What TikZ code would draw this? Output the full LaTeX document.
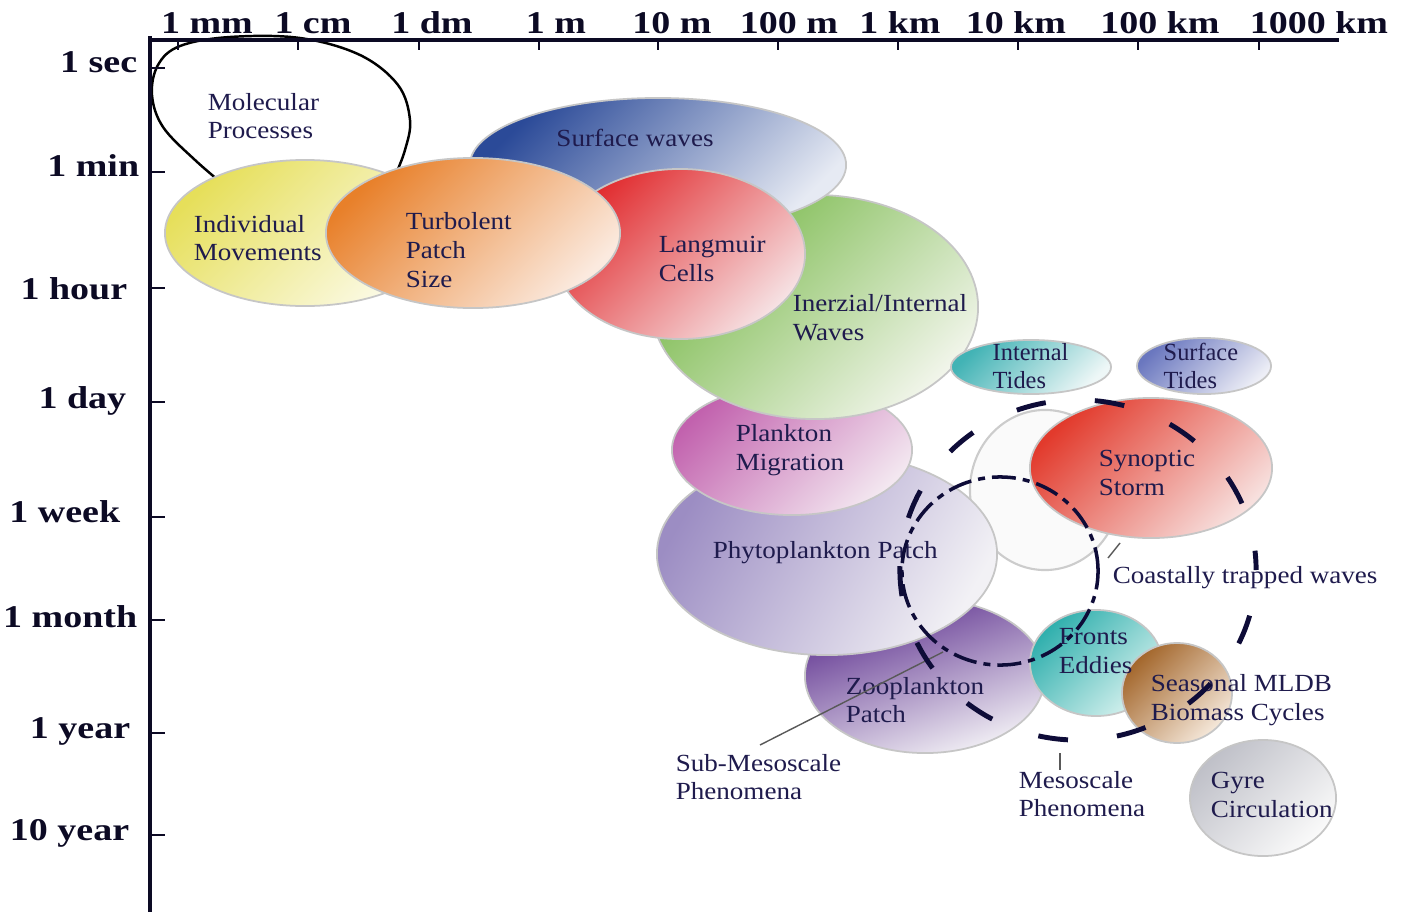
\documentclass[tikz,border=0pt]{standalone}
\usepackage{fontspec}
\setmainfont{Liberation Serif}
\usetikzlibrary{shapes.geometric}
\definecolor{txt}{HTML}{1F1B4D}
\definecolor{axc}{HTML}{0C0A24}
\definecolor{dashc}{HTML}{0E0C38}
\definecolor{cYel}{HTML}{E6DF5A}\definecolor{cYelP}{HTML}{FCFBEA}
\definecolor{cOra}{HTML}{E8802A}\definecolor{cOraP}{HTML}{FBEADF}
\definecolor{cBlu}{HTML}{2B4A98}\definecolor{cBluP}{HTML}{E6EAF3}
\definecolor{cRed}{HTML}{E12B2E}\definecolor{cRedP}{HTML}{F6E1E3}
\definecolor{cGrn}{HTML}{79B94B}\definecolor{cGrnP}{HTML}{F1F5EA}
\definecolor{cITd}{HTML}{42B3B5}\definecolor{cITdP}{HTML}{EEF7F7}
\definecolor{cSTd}{HTML}{6A77BF}\definecolor{cSTdP}{HTML}{EDEEF6}
\definecolor{cPnk}{HTML}{C262AE}\definecolor{cPnkP}{HTML}{F3E7F0}
\definecolor{cPhy}{HTML}{9C8DC3}\definecolor{cPhyP}{HTML}{F2F1F5}
\definecolor{cZoo}{HTML}{5C2F8E}\definecolor{cZooP}{HTML}{F2F0F5}
\definecolor{cSyn}{HTML}{E23A2C}\definecolor{cSynP}{HTML}{F7E0DE}
\definecolor{cFro}{HTML}{2FAFAD}\definecolor{cFroP}{HTML}{D8F2EF}
\definecolor{cSea}{HTML}{A3662B}\definecolor{cSeaP}{HTML}{F5E8DA}
\definecolor{cGyr}{HTML}{BFC0C8}\definecolor{cGyrP}{HTML}{FAFAFA}
\begin{document}
\begin{tikzpicture}[x=0.01cm,y=-0.01cm,
  blob/.style={ellipse, inner sep=0pt, draw=gray!45, line width=0.5pt},
  grad/.style 2 args={top color=#1, bottom color=#2, shading angle=45},
  lab/.style={font=\fontsize{7}{8.2}\selectfont, text=txt, inner sep=0pt, align=left, anchor=west, xscale=1.1},
  ax/.style={font=\bfseries\fontsize{9}{10}\selectfont, text=axc, inner sep=0pt, xscale=1.2},
  axis/.style={line width=1.1pt, draw=axc},
  tick/.style={line width=0.7pt, draw=axc},
  thin/.style={draw=gray!70!black, line width=0.4pt},
]
\useasboundingbox (0,0) rectangle (1403,912);
\fill[white] (0,0) rectangle (1403,912);

% molecular processes loop
\draw[line width=0.7pt, black] plot[smooth, tension=0.6] coordinates {(230,190) (195,160) (163,127) (152,95) (158,65) (180,46) (230,37) (300,38) (360,55) (398,85) (410,120) (405,150) (395,176)};

% blobs, back to front
\node[blob, minimum width=2.80cm, minimum height=1.46cm, grad={cYel}{cYelP}] (indiv) at (305,233) {};
\node[blob, minimum width=2.40cm, minimum height=1.54cm, top color=cZoo, bottom color=cZooP, shading angle=20] (zoo) at (925,676) {};
\node[blob, minimum width=1.32cm, minimum height=1.06cm, grad={cFro}{cFroP}] (fronts) at (1096,663) {};
\node[blob, minimum width=1.10cm, minimum height=1.00cm, grad={cSea}{cSeaP}] (seas) at (1177,693) {};
\node[ellipse, inner sep=0pt, draw=gray!40, line width=0.6pt, fill=gray!4, minimum width=1.50cm, minimum height=1.60cm] (coast) at (1045,490) {};
\node[blob, minimum width=3.40cm, minimum height=2.02cm, top color=cPhy, bottom color=cPhyP, shading angle=60] (phyto) at (827,554) {};
\node[blob, minimum width=2.40cm, minimum height=1.30cm, grad={cPnk}{cPnkP}] (pmig) at (792,450) {};
\node[blob, minimum width=3.26cm, minimum height=2.24cm, grad={cGrn}{cGrnP}] (inert) at (815,307) {};
\node[blob, minimum width=3.76cm, minimum height=1.34cm, grad={cBlu}{cBluP}] (surfw) at (658,165) {};
\node[blob, minimum width=2.50cm, minimum height=1.70cm, grad={cRed}{cRedP}] (lang) at (680,254) {};
\node[blob, minimum width=2.94cm, minimum height=1.50cm, grad={cOra}{cOraP}] (turb) at (473,233) {};
\node[blob, minimum width=2.42cm, minimum height=1.40cm, grad={cSyn}{cSynP}] (syn) at (1151,468) {};
\node[blob, minimum width=1.60cm, minimum height=0.54cm, grad={cITd}{cITdP}] (itid) at (1031,367) {};
\node[blob, minimum width=1.34cm, minimum height=0.56cm, grad={cSTd}{cSTdP}] (stid) at (1204,366) {};
\node[blob, minimum width=1.46cm, minimum height=1.16cm, grad={cGyr}{cGyrP}] (gyre) at (1263,798) {};

% axes
\coordinate (ytop) at (150,36);
\coordinate (ybot) at (150,912);
\coordinate (xl) at (150,40);
\coordinate (xr) at (1339,40);
\draw[axis] (ytop) -- (ybot);
\draw[axis] (xl) -- (xr);
\foreach \x/\lx/\t [count=\i] in {178/207/1 mm,298/313/1 cm,419/432/1 dm,539/556/1 m,658/672/10 m,778/789/100 m,898/900/1 km,1018/1016/10 km,1138/1160/100 km,1259/1319/1000 km}{
  \draw[tick] (\x,40) -- (\x,50);
  \node[ax, anchor=base] (tx\i) at (\lx,33) {\t};
}
\foreach \y/\by/\ex/\t [count=\i] in {68/72/138/1 sec,172/176/140/1 min,288/299/128/1 hour,402/408/127/1 day,517/522/121/1 week,620/627/138/1 month,733/738/131/1 year,835/840/130/10 year}{
  \draw[tick] (150,\y) -- (165,\y);
  \node[ax, anchor=base east] (ty\i) at (\ex,\by) {\t};
}

% labels
\node[lab] (tmol) at (207,116) {Molecular\\Processes};
\node[lab] (tind) at (193,238) {Individual\\Movements};
\node[lab] (ttur) at (405,250) {Turbolent\\Patch\\Size};
\node[lab, anchor=center] (tsw) at (635,138) {Surface waves};
\node[lab] (tlan) at (658,259) {Langmuir\\Cells};
\node[lab] (tine) at (792,318) {Inerzial/Internal\\Waves};
\node[lab, xscale=0.9] (titd) at (992,366) {Internal\\Tides};
\node[lab, xscale=0.9] (tstd) at (1163,366) {Surface\\Tides};
\node[lab] (tpm) at (735,450) {Plankton\\Migration};
\node[lab] (tphy) at (712,553) {Phytoplankton Patch};
\node[lab] (tsyn) at (1098,473) {Synoptic\\Storm};
\node[lab] (tcoa) at (1112,578) {Coastally trapped waves};
\node[lab] (tfro) at (1058,651) {Fronts\\Eddies};
\node[lab] (tzoo) at (845,700) {Zooplankton\\Patch};
\node[lab] (tsea) at (1150,700) {Seasonal MLDB\\Biomass Cycles};
\node[lab] (tsub) at (675,777) {Sub-Mesoscale\\Phenomena};
\node[lab] (tmes) at (1018,794) {Mesoscale\\Phenomena};
\node[lab] (tgyr) at (1210,795) {Gyre\\Circulation};

% small pointer lines
\coordinate (c1) at (1120,543);
\coordinate (c2) at (1108,558);
\draw[thin] (c1) -- (c2);
\coordinate (m1) at (1060,753);
\coordinate (m2) at (1060,770);
\draw[thin] (m1) -- (m2);
\coordinate (s1) at (760,745);
\coordinate (s2) at (943,652);
\draw[thin] (s1) -- (s2);

% scale envelopes
\node[ellipse, inner sep=0pt, draw=dashc, line width=1.0pt, minimum width=1.96cm, minimum height=1.88cm,
  dash pattern=on 6.8pt off 2pt on 2pt off 2pt] (submeso) at (1000,571) {};
\node[ellipse, inner sep=0pt, draw=dashc, line width=1.4pt, minimum width=3.56cm, minimum height=3.40cm,
  dash pattern=on 8.5pt off 14pt, dash phase=3pt] (meso) at (1078,570) {};
\end{tikzpicture}
\end{document}
